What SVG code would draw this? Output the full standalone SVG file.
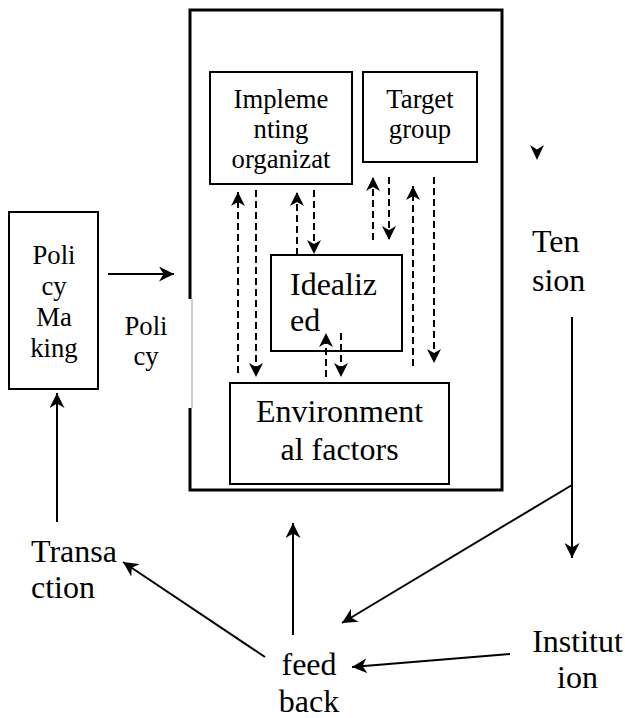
<svg xmlns="http://www.w3.org/2000/svg" width="625" height="718" viewBox="0 0 625 718">
<style>
  .box{fill:#fff;stroke:#000;stroke-width:2}
  text{font-family:"Liberation Serif","Times New Roman",serif;fill:#000}
  .s{font-size:26.7px}
  .l{font-size:32px}
  .m{text-anchor:middle}
  .solid{stroke:#000;stroke-width:2;fill:none;marker-end:url(#ah)}
  .dash{stroke:#000;stroke-width:2;fill:none;stroke-dasharray:7,4;marker-end:url(#dh)}
</style>
<defs>
  <marker id="ah" viewBox="0 0 15 15" refX="15" refY="7.5" markerWidth="15" markerHeight="15" markerUnits="userSpaceOnUse" orient="auto">
    <path d="M0,0 L15,7.5 L0,15 L4.5,7.5 Z" fill="#000"/>
  </marker>
  <marker id="dh" viewBox="0 0 14 14" refX="14" refY="7" markerWidth="14" markerHeight="14" markerUnits="userSpaceOnUse" orient="auto">
    <path d="M0,0 L14,7 L0,14 L4,7 Z" fill="#000"/>
  </marker>
</defs>

<g id="outer">
  <path d="M190,299 L190,10 L502,10 L502,490 L190,490 L190,408" fill="none" stroke="#000" stroke-width="3"/>
  <line x1="192" y1="299" x2="192" y2="408" stroke="#999" stroke-width="1"/>
</g>

<g id="implementing">
  <rect class="box" x="210" y="72" width="142" height="112"/>
  <text class="s m" x="281" y="108">Impleme</text>
  <text class="s m" x="281" y="138">nting</text>
  <text class="s m" x="281" y="168">organizat</text>
</g>

<g id="target">
  <rect class="box" x="363" y="72" width="114" height="90"/>
  <text class="s m" x="420" y="108">Target</text>
  <text class="s m" x="420" y="138">group</text>
</g>

<g id="idealized">
  <rect class="box" x="271" y="255" width="131" height="96"/>
  <text class="l" x="290" y="295">Idealiz</text>
  <text class="l" x="290" y="331">ed</text>
</g>

<g id="environmental">
  <rect class="box" x="230" y="383" width="219" height="101"/>
  <text class="l m" x="339.5" y="422">Environment</text>
  <text class="l m" x="339.5" y="460">al factors</text>
</g>

<g id="policymaking">
  <rect class="box" x="9" y="212" width="89" height="177"/>
  <text class="s m" x="54" y="264">Poli</text>
  <text class="s m" x="54" y="295">cy</text>
  <text class="s m" x="54" y="326">Ma</text>
  <text class="s m" x="54" y="357">king</text>
</g>

<g id="policy">
  <text class="s m" x="146" y="335">Poli</text>
  <text class="s m" x="146" y="365">cy</text>
</g>

<g id="tension">
  <text class="l" x="532" y="252">Ten</text>
  <text class="l" x="532" y="291">sion</text>
</g>

<g id="transaction">
  <text class="l" x="31" y="562">Transa</text>
  <text class="l" x="31" y="598">ction</text>
</g>

<g id="feedback">
  <text class="l m" x="309" y="675">feed</text>
  <text class="l m" x="309" y="712">back</text>
</g>

<g id="institution">
  <text class="l m" x="577.5" y="652">Institut</text>
  <text class="l m" x="577.5" y="688">ion</text>
</g>

<g id="connectors">
  <line class="dash" x1="238" y1="373" x2="238" y2="192"/>
  <line class="dash" x1="256" y1="190" x2="256" y2="377"/>
  <line class="dash" x1="297" y1="255" x2="297" y2="192"/>
  <line class="dash" x1="314" y1="190" x2="314" y2="254"/>
  <line class="dash" x1="373" y1="240" x2="373" y2="177"/>
  <line class="dash" x1="389" y1="177" x2="389" y2="240"/>
  <line class="dash" x1="413" y1="366" x2="413" y2="186"/>
  <line class="dash" x1="434" y1="177" x2="434" y2="363"/>
  <line class="dash" x1="326" y1="377" x2="326" y2="333"/>
  <line class="dash" x1="341" y1="333" x2="341" y2="377"/>

  <line class="solid" x1="108" y1="274" x2="174" y2="274"/>
  <line class="solid" x1="57" y1="522" x2="57" y2="393"/>
  <line class="solid" x1="265" y1="657" x2="123" y2="562"/>
  <line class="solid" x1="293" y1="635" x2="293" y2="523"/>
  <line class="solid" x1="572" y1="317" x2="572" y2="558"/>
  <line class="solid" x1="572" y1="485" x2="342" y2="623"/>
  <line class="solid" x1="510" y1="654" x2="352" y2="667"/>
  <path d="M537,160 L530,145 L537,149.5 L544,145 Z" fill="#000"/>
</g>
</svg>
